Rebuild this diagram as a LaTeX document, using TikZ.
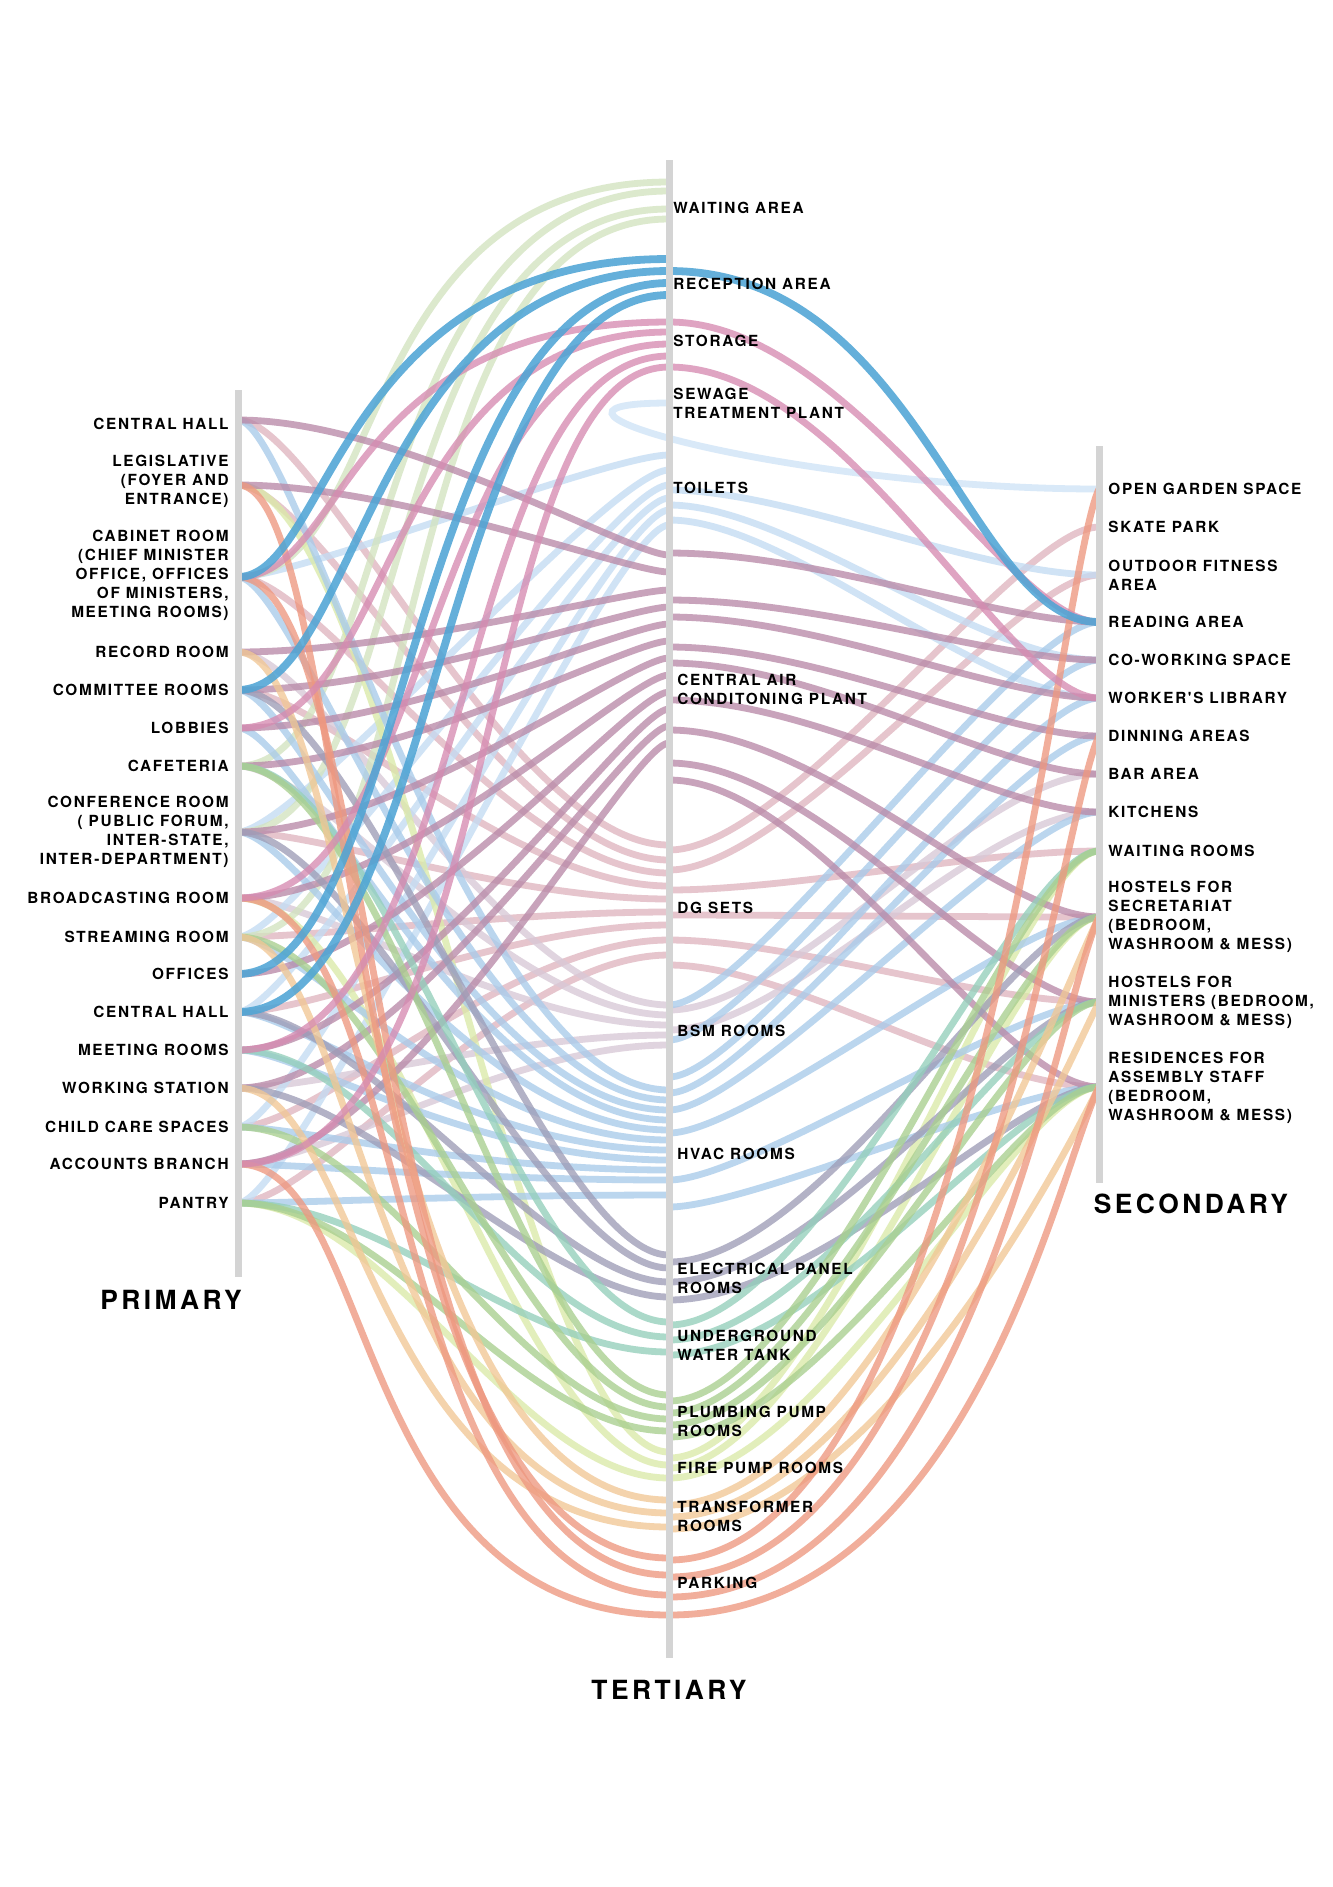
\documentclass[tikz,border=0pt]{standalone}
\usepackage{fontspec}
\usetikzlibrary{calc}
\newfontfamily\labfont{TeX Gyre Heros}[LetterSpace=11]
\newfontfamily\titfont{TeX Gyre Heros}[LetterSpace=13]
\definecolor{barG}{HTML}{D4D4D4}
\definecolor{cWait}{HTML}{D3E3C0}
\definecolor{cRec}{HTML}{4FA5D5}
\definecolor{cSto}{HTML}{D68BB1}
\definecolor{cSew}{HTML}{CFE3F7}
\definecolor{cToi}{HTML}{C4DCF3}
\definecolor{cAC}{HTML}{B98AA8}
\definecolor{cDG}{HTML}{DFB5BF}
\definecolor{cBSM}{HTML}{D8C8D6}
\definecolor{cHV}{HTML}{A9CBEA}
\definecolor{cEl}{HTML}{9E9DB7}
\definecolor{cUW}{HTML}{94CFBB}
\definecolor{cPl}{HTML}{A9CF8F}
\definecolor{cFi}{HTML}{DBEAA9}
\definecolor{cTr}{HTML}{F1C795}
\definecolor{cPk}{HTML}{EE9880}
\newcommand\Lk[6]{\draw[#1] (#2) .. controls +(#3,0) and +(-#4,0) .. ($(#5)+(0,#6)$);}
\newcommand\Rk[6]{\draw[#1] ($(#2)+(0,#3)$) .. controls +(#4,0) and +(#5) .. (#6);}
\begin{document}
\begin{tikzpicture}[x=0.5pt,y=-0.5pt,
  lk/.style={line width=3.4pt, draw opacity=0.78},
  wg/.style={lk, draw=cWait},
  rb/.style={lk, draw=cRec, line width=3.9pt, draw opacity=0.88},
  sp/.style={lk, draw=cSto},
  sb/.style={lk, draw=cSew},
  tb/.style={lk, draw=cToi},
  ac/.style={lk, draw=cAC},
  dg/.style={lk, draw=cDG},
  bs/.style={lk, draw=cBSM},
  hv/.style={lk, draw=cHV},
  el/.style={lk, draw=cEl},
  uw/.style={lk, draw=cUW},
  pl/.style={lk, draw=cPl},
  fi/.style={lk, draw=cFi},
  tr/.style={lk, draw=cTr},
  pk/.style={lk, draw=cPk},
  barline/.style={draw=barG, line width=3.5pt},
  plab/.style={anchor=east, align=right, inner sep=0pt, font=\labfont\bfseries\fontsize{7.66pt}{9.5pt}\selectfont},
  tlab/.style={anchor=west, align=left, inner sep=0pt, font=\labfont\bfseries\fontsize{7.66pt}{9.5pt}\selectfont},
  ttl/.style={inner sep=0pt, font=\titfont\bfseries\fontsize{13.2pt}{15pt}\selectfont}]
\useasboundingbox (0,0) rectangle (1333,1887);
\fill[white] (0,0) rectangle (1333,1887);
% primary points
\coordinate (p1) at (238,420);
\coordinate (p2) at (238,485);
\coordinate (p3) at (238,577);
\coordinate (p4) at (238,652);
\coordinate (p5) at (238,690);
\coordinate (p6) at (238,728);
\coordinate (p7) at (238,766);
\coordinate (p8) at (238,832);
\coordinate (p9) at (238,898);
\coordinate (p10) at (238,937);
\coordinate (p11) at (238,974);
\coordinate (p12) at (238,1012);
\coordinate (p13) at (238,1050);
\coordinate (p14) at (238,1088);
\coordinate (p15) at (238,1127);
\coordinate (p16) at (238,1164);
\coordinate (p17) at (238,1203);
% tertiary points
\coordinate (tWait) at (669,208);
\coordinate (tRec) at (669,284);
\coordinate (tSto) at (669,341);
\coordinate (tSew) at (669,403);
\coordinate (tToi) at (669,488);
\coordinate (tAC) at (669,688);
\coordinate (tDG) at (669,908);
\coordinate (tBSM) at (669,1031);
\coordinate (tHV) at (669,1154);
\coordinate (tEl) at (669,1278);
\coordinate (tUW) at (669,1345);
\coordinate (tPl) at (669,1421);
\coordinate (tFi) at (669,1468);
\coordinate (tTr) at (669,1515);
\coordinate (tPk) at (669,1583);
% secondary points
\coordinate (s1) at (1099,489);
\coordinate (s2) at (1099,527);
\coordinate (s3) at (1099,575);
\coordinate (s4) at (1099,622);
\coordinate (s5) at (1099,660);
\coordinate (s6) at (1099,698);
\coordinate (s7) at (1099,736);
\coordinate (s8) at (1099,774);
\coordinate (s9) at (1099,812);
\coordinate (s10) at (1099,851);
\coordinate (s11) at (1099,917);
\coordinate (s12) at (1099,1002);
\coordinate (s13) at (1099,1087);
% ---------- pale groups ----------
% DG sets
\Lk{dg}{p1}{80}{160}{tDG}{-63}
\Lk{dg}{p2}{80}{160}{tDG}{-48}
\Lk{dg}{p3}{80}{160}{tDG}{-35}
\Lk{dg}{p5}{80}{160}{tDG}{-22}
\Lk{dg}{p8}{80}{160}{tDG}{-9}
\Lk{dg}{p10}{80}{160}{tDG}{4}
\Lk{dg}{p12}{80}{160}{tDG}{17}
\Lk{dg}{p15}{80}{160}{tDG}{32}
\Lk{dg}{p17}{80}{160}{tDG}{47}
\Rk{dg}{tDG}{-58}{120}{-80,0}{s2}
\Rk{dg}{tDG}{-38}{120}{-80,0}{s3}
\Rk{dg}{tDG}{-18}{120}{-120,0}{s10}
\Rk{dg}{tDG}{7}{120}{-120,0}{s11}
\Rk{dg}{tDG}{32}{120}{-120,0}{s12}
\Rk{dg}{tDG}{57}{120}{-120,0}{s13}
% BSM rooms
\Lk{bs}{p4}{80}{160}{tBSM}{-26}
\Lk{bs}{p7}{80}{160}{tBSM}{-16}
\Lk{bs}{p9}{80}{160}{tBSM}{-6}
\Lk{bs}{p14}{80}{160}{tBSM}{4}
\Lk{bs}{p16}{80}{160}{tBSM}{14}
\Rk{bs}{tBSM}{-21}{120}{-120,0}{s8}
\Rk{bs}{tBSM}{-1}{120}{-120,0}{s9}
% Toilets
\Lk{tb}{p3}{60}{60}{tToi}{-33}
\Lk{tb}{p8}{60}{60}{tToi}{-18}
\Lk{tb}{p10}{60}{60}{tToi}{-3}
\Lk{tb}{p12}{60}{60}{tToi}{10}
\Lk{tb}{p15}{60}{60}{tToi}{22}
\Lk{tb}{p17}{60}{60}{tToi}{37}
\Rk{tb}{tToi}{2}{120}{-120,0}{s3}
\Rk{tb}{tToi}{17}{120}{-120,0}{s5}
\Rk{tb}{tToi}{32}{120}{-120,0}{s6}
% Sewage treatment plant loop
\draw[sb] (tSew) .. controls +(-190,0) and +(-300,0) .. (s1);
% Waiting area
\Lk{wg}{p3}{150}{320}{tWait}{-26}
\Lk{wg}{p7}{160}{310}{tWait}{-17}
\Lk{wg}{p8}{180}{300}{tWait}{1}
\Lk{wg}{p10}{200}{290}{tWait}{11}
% Fire pump
\Lk{fi}{p2}{150}{150}{tFi}{-16}
\Lk{fi}{p9}{150}{150}{tFi}{-3}
\Lk{fi}{p17}{150}{150}{tFi}{10}
\Rk{fi}{tFi}{-10}{150}{-80,0}{s10}
\Rk{fi}{tFi}{0}{150}{-80,0}{s11}
\Rk{fi}{tFi}{10}{150}{-80,0}{s13}
% HVAC
\Lk{hv}{p1}{60}{200}{tHV}{-64}
\Lk{hv}{p3}{60}{200}{tHV}{-54}
\Lk{hv}{p5}{60}{200}{tHV}{-44}
\Lk{hv}{p6}{60}{200}{tHV}{-34}
\Lk{hv}{p8}{60}{200}{tHV}{-24}
\Lk{hv}{p10}{60}{200}{tHV}{-14}
\Lk{hv}{p12}{60}{200}{tHV}{-4}
\Lk{hv}{p13}{60}{200}{tHV}{6}
\Lk{hv}{p15}{60}{200}{tHV}{16}
\Lk{hv}{p16}{60}{200}{tHV}{26}
\Lk{hv}{p17}{60}{200}{tHV}{41}
\Rk{hv}{tHV}{-149}{80}{-80,0}{s4}
\Rk{hv}{tHV}{-114}{80}{-80,0}{s5}
\Rk{hv}{tHV}{-77}{80}{-80,0}{s6}
\Rk{hv}{tHV}{-61}{80}{-80,0}{s7}
\Rk{hv}{tHV}{-44}{80}{-80,0}{s9}
\Rk{hv}{tHV}{-21}{80}{-80,0}{s11}
\Rk{hv}{tHV}{26}{80}{-80,0}{s12}
\Rk{hv}{tHV}{53}{80}{-80,0}{s13}
% Central AC plant
\Lk{ac}{p1}{160}{40}{tAC}{-133}
\Lk{ac}{p2}{160}{40}{tAC}{-116}
\Lk{ac}{p4}{160}{40}{tAC}{-98}
\Lk{ac}{p5}{160}{40}{tAC}{-81}
\Lk{ac}{p6}{160}{40}{tAC}{-64}
\Lk{ac}{p7}{160}{40}{tAC}{-47}
\Lk{ac}{p8}{160}{40}{tAC}{-30}
\Lk{ac}{p9}{160}{40}{tAC}{-13}
\Lk{ac}{p11}{160}{40}{tAC}{4}
\Lk{ac}{p13}{160}{40}{tAC}{21}
\Lk{ac}{p14}{160}{40}{tAC}{38}
\Lk{ac}{p16}{160}{40}{tAC}{55}
\Rk{ac}{tAC}{-135}{150}{-100,0}{s4}
\Rk{ac}{tAC}{-88}{150}{-100,0}{s5}
\Rk{ac}{tAC}{-71}{150}{-100,0}{s6}
\Rk{ac}{tAC}{-41}{150}{-100,0}{s7}
\Rk{ac}{tAC}{-25}{150}{-100,0}{s8}
\Rk{ac}{tAC}{12}{150}{-100,0}{s9}
\Rk{ac}{tAC}{42}{150}{-100,0}{s11}
\Rk{ac}{tAC}{75}{150}{-100,0}{s12}
\Rk{ac}{tAC}{92}{150}{-100,0}{s13}
% Electrical panel rooms
\Lk{el}{p5}{120}{120}{tEl}{-23}
\Lk{el}{p8}{120}{120}{tEl}{-10}
\Lk{el}{p12}{120}{120}{tEl}{4}
\Lk{el}{p14}{120}{120}{tEl}{19}
\Rk{el}{tEl}{-16}{150}{-80,0}{s11}
\Rk{el}{tEl}{4}{150}{-80,0}{s12}
\Rk{el}{tEl}{22}{150}{-80,0}{s13}
% Underground water tank
\Lk{uw}{p7}{150}{150}{tUW}{-23}
\Lk{uw}{p13}{150}{150}{tUW}{-8}
\Lk{uw}{p17}{150}{150}{tUW}{7}
\Rk{uw}{tUW}{-20}{150}{-80,0}{s10}
\Rk{uw}{tUW}{-5}{150}{-80,0}{s12}
\Rk{uw}{tUW}{10}{150}{-80,0}{s13}
% Plumbing pump rooms
\Lk{pl}{p7}{150}{150}{tPl}{-26}
\Lk{pl}{p10}{150}{150}{tPl}{-14}
\Lk{pl}{p15}{150}{150}{tPl}{-2}
\Lk{pl}{p17}{150}{150}{tPl}{10}
\Rk{pl}{tPl}{-20}{150}{-80,0}{s10}
\Rk{pl}{tPl}{-8}{150}{-80,0}{s11}
\Rk{pl}{tPl}{4}{150}{-80,0}{s12}
\Rk{pl}{tPl}{16}{150}{-80,0}{s13}
% Transformer rooms
\Lk{tr}{p4}{120}{300}{tTr}{-15}
\Lk{tr}{p10}{120}{300}{tTr}{-2}
\Lk{tr}{p14}{120}{300}{tTr}{12}
\Rk{tr}{tTr}{-10}{200}{-40,80}{s11}
\Rk{tr}{tTr}{2}{200}{-40,80}{s12}
\Rk{tr}{tTr}{14}{200}{-40,80}{s13}
% Parking
\Lk{pk}{p2}{120}{330}{tPk}{-25}
\Lk{pk}{p3}{150}{310}{tPk}{-8}
\Lk{pk}{p9}{180}{290}{tPk}{12}
\Lk{pk}{p16}{140}{320}{tPk}{32}
\Rk{pk}{tPk}{-23}{300}{-40,80}{s1}
\Rk{pk}{tPk}{-6}{300}{-40,80}{s7}
\Rk{pk}{tPk}{14}{300}{-40,80}{s11}
\Rk{pk}{tPk}{32}{300}{-40,80}{s13}
% Storage
\Lk{sp}{p3}{110}{330}{tSto}{-19}
\Lk{sp}{p6}{160}{290}{tSto}{-9}
\Lk{sp}{p9}{200}{250}{tSto}{3}
\Lk{sp}{p13}{240}{220}{tSto}{15}
\Lk{sp}{p16}{270}{200}{tSto}{26}
\Rk{sp}{tSto}{-19}{180}{-90,0}{s4}
\Rk{sp}{tSto}{26}{180}{-90,0}{s6}
% Reception area
\Lk{rb}{p3}{90}{330}{tRec}{-25}
\Lk{rb}{p5}{120}{300}{tRec}{-13}
\Lk{rb}{p11}{170}{260}{tRec}{-1}
\Lk{rb}{p12}{200}{230}{tRec}{11}
\Rk{rb}{tRec}{-13}{250}{-130,0}{s4}
% ---------- bars ----------
\draw[barline] (238,390) -- (238,1277);
\draw[barline] (669,160) -- (669,1658);
\draw[barline] (1099,446) -- (1099,1183);
% ---------- labels ----------
\node[plab] (lp1) at (229,424) {CENTRAL HALL};
\node[plab] (lp2) at (229,481) {LEGISLATIVE\\(FOYER AND\\ENTRANCE)};
\node[plab] (lp3) at (229,575) {CABINET ROOM\\(CHIEF MINISTER\\OFFICE, OFFICES\\OF MINISTERS,\\MEETING ROOMS)};
\node[plab] (lp4) at (229,652) {RECORD ROOM};
\node[plab] (lp5) at (229,690) {COMMITTEE ROOMS};
\node[plab] (lp6) at (229,728) {LOBBIES};
\node[plab] (lp7) at (229,766) {CAFETERIA};
\node[plab] (lp8) at (229,832) {CONFERENCE ROOM\\( PUBLIC FORUM,\\INTER-STATE,\\INTER-DEPARTMENT)};
\node[plab] (lp9) at (229,898) {BROADCASTING ROOM};
\node[plab] (lp10) at (229,937) {STREAMING ROOM};
\node[plab] (lp11) at (229,974) {OFFICES};
\node[plab] (lp12) at (229,1012) {CENTRAL HALL};
\node[plab] (lp13) at (229,1050) {MEETING ROOMS};
\node[plab] (lp14) at (229,1088) {WORKING STATION};
\node[plab] (lp15) at (229,1127) {CHILD CARE SPACES};
\node[plab] (lp16) at (229,1164) {ACCOUNTS BRANCH};
\node[plab] (lp17) at (229,1203) {PANTRY};
\node[tlab] (lt1) at (673,208) {WAITING AREA};
\node[tlab] (lt2) at (673,284) {RECEPTION AREA};
\node[tlab] (lt3) at (673,341) {STORAGE};
\node[tlab] (lt4) at (673,403) {SEWAGE\\TREATMENT PLANT};
\node[tlab] (lt5) at (673,488) {TOILETS};
\node[tlab] (lt6) at (677,689) {CENTRAL AIR\\CONDITONING PLANT};
\node[tlab] (lt7) at (677,908) {DG SETS};
\node[tlab] (lt8) at (677,1031) {BSM ROOMS};
\node[tlab] (lt9) at (677,1154) {HVAC ROOMS};
\node[tlab] (lt10) at (677,1278) {ELECTRICAL PANEL\\ROOMS};
\node[tlab] (lt11) at (677,1345) {UNDERGROUND\\WATER TANK};
\node[tlab] (lt12) at (677,1421) {PLUMBING PUMP\\ROOMS};
\node[tlab] (lt13) at (677,1468) {FIRE PUMP ROOMS};
\node[tlab] (lt14) at (677,1516) {TRANSFORMER\\ROOMS};
\node[tlab] (lt15) at (677,1583) {PARKING};
\node[tlab] (ls1) at (1108,489) {OPEN GARDEN SPACE};
\node[tlab] (ls2) at (1108,527) {SKATE PARK};
\node[tlab] (ls3) at (1108,575) {OUTDOOR FITNESS\\AREA};
\node[tlab] (ls4) at (1108,622) {READING AREA};
\node[tlab] (ls5) at (1108,660) {CO-WORKING SPACE};
\node[tlab] (ls6) at (1108,698) {WORKER'S LIBRARY};
\node[tlab] (ls7) at (1108,736) {DINNING AREAS};
\node[tlab] (ls8) at (1108,774) {BAR AREA};
\node[tlab] (ls9) at (1108,812) {KITCHENS};
\node[tlab] (ls10) at (1108,851) {WAITING ROOMS};
\node[tlab] (ls11) at (1108,917) {HOSTELS FOR\\SECRETARIAT\\(BEDROOM,\\WASHROOM \& MESS)};
\node[tlab] (ls12) at (1108,1002) {HOSTELS FOR\\MINISTERS (BEDROOM,\\WASHROOM \& MESS)};
\node[tlab] (ls13) at (1108,1088) {RESIDENCES FOR\\ASSEMBLY STAFF\\(BEDROOM,\\WASHROOM \& MESS)};
\node[ttl] (tP) at (171,1300) {PRIMARY};
\node[ttl] (tT) at (669,1690) {TERTIARY};
\node[ttl] (tS) at (1191,1204) {SECONDARY};
\end{tikzpicture}
\end{document}
